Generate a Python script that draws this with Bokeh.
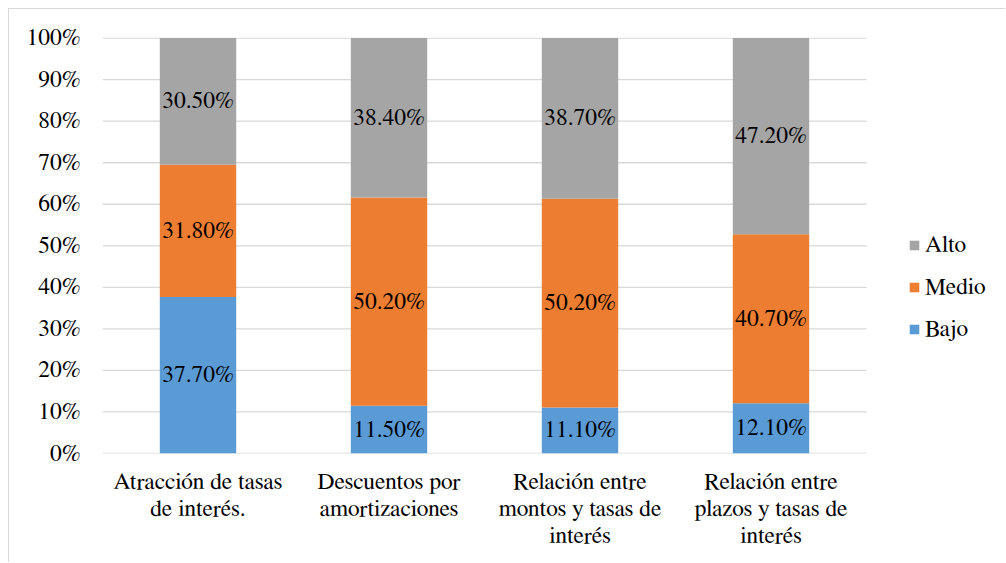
from bokeh.plotting import figure
from bokeh.models import (ColumnDataSource, Range1d, NumeralTickFormatter,
                          FixedTicker, Legend, LegendItem, LabelSet)
from bokeh.core.properties import value
from bokeh.embed import file_html
from bokeh.resources import INLINE

categories = ["Atracción de tasas\nde interés.",
              "Descuentos por\namortizaciones",
              "Relación entre\nmontos y tasas de\ninterés",
              "Relación entre\nplazos y tasas de\ninterés"]
bajo = [37.7, 11.5, 11.1, 12.1]
medio = [31.8, 50.2, 50.2, 40.7]
alto = [30.5, 38.4, 38.7, 47.2]
series = ["Bajo", "Medio", "Alto"]
colors = {"Bajo": "#5B9BD5", "Medio": "#ED7D31", "Alto": "#A5A5A5"}
y_ticks = [0, 0.1, 0.2, 0.3, 0.4, 0.5, 0.6, 0.7, 0.8, 0.9, 1.0]

FONT = "FreeSerif"
FS = "23.5px"

n = len(categories)
xs = [i + 0.5 for i in range(n)]
totals = [b + m + a for b, m, a in zip(bajo, medio, alto)]
data = {"x": xs}
vals = {"Bajo": bajo, "Medio": medio, "Alto": alto}
for s in series:
    data[s] = [v / t for v, t in zip(vals[s], totals)]
source = ColumnDataSource(data)

x_end = n * 898 / 764
p = figure(x_range=Range1d(0, x_end), y_range=Range1d(0, 1.0015),
           width=997, height=554, output_backend="svg", toolbar_location=None,
           min_border_left=93, min_border_right=6, min_border_top=28, min_border_bottom=110,
           margin=(8, 0, 0, 8),
           styles={"border-top": "1px solid #D9D9D9", "border-left": "1px solid #D9D9D9"})
p.outline_line_color = None
p.background_fill_color = "white"
p.xgrid.grid_line_color = None
p.ygrid.grid_line_color = None

p.segment(x0=[0] * len(y_ticks), x1=[n] * len(y_ticks), y0=y_ticks, y1=y_ticks,
          line_color="#D9D9D9", line_width=1.3)

renderers = p.vbar_stack(series, x="x", width=0.4, source=source,
                         color=[colors[s] for s in series], line_color=None)

lab_x, lab_y, lab_t = [], [], []
for i in range(n):
    base = 0.0
    for s in series:
        v = data[s][i]
        lab_x.append(xs[i])
        lab_y.append(base + v / 2)
        lab_t.append("%.2f%%" % vals[s][i])
        base += v
lsrc = ColumnDataSource(dict(x=lab_x, y=lab_y, t=lab_t))
p.add_layout(LabelSet(x="x", y="y", text="t", source=lsrc, text_align="center",
                      text_baseline="middle", text_font=value(FONT),
                      text_font_size=FS, text_color="black"))

p.yaxis.ticker = FixedTicker(ticks=y_ticks)
p.yaxis.formatter = NumeralTickFormatter(format="0%")
p.yaxis.axis_line_color = None
p.yaxis.major_tick_line_color = None
p.yaxis.minor_tick_line_color = None
p.yaxis.major_tick_out = 0
p.yaxis.major_label_standoff = 22
p.yaxis.major_label_text_font = FONT
p.yaxis.major_label_text_font_size = FS
p.yaxis.major_label_text_color = "black"

p.xaxis.ticker = FixedTicker(ticks=xs)
p.xaxis.major_label_overrides = {x: c for x, c in zip(xs, categories)}
p.xaxis.axis_line_color = None
p.xaxis.major_tick_line_color = None
p.xaxis.minor_tick_line_color = None
p.xaxis.major_tick_out = 0
p.xaxis.major_label_standoff = 16
p.xaxis.major_label_text_font = FONT
p.xaxis.major_label_text_font_size = FS
p.xaxis.major_label_text_color = "black"
p.xaxis.major_label_text_line_height = 1.14

items = [LegendItem(label=s, renderers=[renderers[series.index(s)]]) for s in ["Alto", "Medio", "Bajo"]]
legend = Legend(items=items, location=(806, 111), padding=0, margin=0,
                glyph_width=12, glyph_height=12, label_height=20, spacing=16,
                label_standoff=5, label_text_font=FONT, label_text_font_size=FS,
                label_text_color="black", border_line_color=None, background_fill_alpha=0)
p.add_layout(legend, "center")

open("out.html", "w").write(file_html(p, INLINE))
